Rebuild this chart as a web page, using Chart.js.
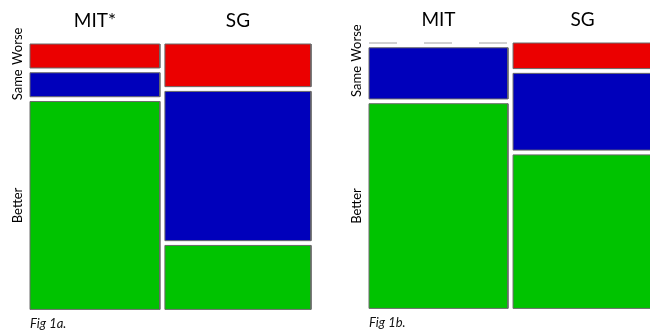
<!DOCTYPE html>
<html>
<head>
<meta charset="utf-8">
<script src="https://cdn.jsdelivr.net/npm/chart.js@4/dist/chart.umd.min.js"></script>
<style>
body{margin:0;overflow:hidden;background:#fff;}
#a{position:absolute;left:0;top:0;width:325px;height:333px;}
#b{position:absolute;left:325px;top:0;width:330px;height:333px;}
</style>
</head>
<body>
<div id="a"><canvas id="chartA"></canvas></div>
<div id="b"><canvas id="chartB"></canvas></div>
<script>
// rows top to bottom
const rowNames = ["Worse", "Same", "Better"];
const rowColors = ["#EB0000", "#0000BB", "#00C300"];

// Fig 1a counts
const colsA = ["MIT*", "SG"];
const fig1aMIT = [3, 3, 26];
const fig1aSG = [6, 21, 9];

// Fig 1b counts
const colsB = ["MIT", "SG"];
const fig1bMIT = [0, 6, 24];
const fig1bSG = [3, 9, 18];

const gapX = 0.018, gapY = 0.018;
const font = "Lato, 'Open Sans', sans-serif";

function sum(a){ return a.reduce((s, v) => s + v, 0); }

function buildMosaic(cols){
	let total = 0;
	cols.forEach(c => total += sum(c));
	let datasets = [];
	let centers = [];
	let rowCenters = [];
	let x = 0;
	cols.forEach((col, ci) => {
		let n = sum(col);
		let w = (1 - gapX * (cols.length - 1)) * n / total;
		let y = 1;
		col.forEach((c, r) => {
			let h = (1 - gapY * (col.length - 1)) * c / n;
			if(c === 0){
				datasets.push({
					data: [{x: x, y: y}, {x: x + w, y: y}],
					showLine: true, borderColor: "#a0a0a0", borderWidth: 1,
					borderDash: [28, 27], pointRadius: 0, fill: false, clip: 3
				});
			} else {
				datasets.push({
					data: [{x: x, y: y}, {x: x + w, y: y}, {x: x + w, y: y - h}, {x: x, y: y - h}, {x: x, y: y}],
					showLine: true, borderColor: "#6a6a6a", borderWidth: 1,
					backgroundColor: rowColors[r], fill: "shape", pointRadius: 0,
					tension: 0, borderJoinStyle: "miter", clip: 3
				});
			}
			if(ci === 0) rowCenters.push(y - h / 2);
			y -= h + gapY;
		});
		centers.push(x + w / 2);
		x += w + gapX;
	});
	// spread the side labels: move the upper one up (not past the top), rest goes down
	const minSep = 0.145;
	for(let i = 0; i < rowCenters.length - 1; i++){
		let d = minSep - (rowCenters[i] - rowCenters[i + 1]);
		if(d <= 0) continue;
		let up = Math.min(d, Math.max(0, 1 - rowCenters[i]));
		rowCenters[i] += up;
		rowCenters[i + 1] -= d - up;
	}
	return {datasets, centers, rowCenters};
}

function makeChart(id, names, cols, caption, yW, topH, padRight, padBottom){
	let m = buildMosaic(cols);
	new Chart(document.getElementById(id), {
		type: "scatter",
		data: {datasets: m.datasets},
		options: {
			responsive: true,
			maintainAspectRatio: false,
			animation: false,
			layout: {padding: {left: 0, right: padRight, top: 0, bottom: padBottom}},
			plugins: {
				legend: {display: false},
				tooltip: {enabled: false},
				title: {
					display: true, text: caption, position: "bottom", align: "start",
					fullSize: false, color: "#111",
					font: {family: font, size: 13, style: "italic", weight: "normal"},
					padding: {top: 7, bottom: 1}
				}
			},
			scales: {
				x: {
					type: "linear", position: "top", min: 0, max: 1,
					grid: {display: false, drawTicks: false}, border: {display: false},
					afterBuildTicks: s => { s.ticks = m.centers.map(v => ({value: v})); },
					afterFit: s => { s.height = topH; },
					ticks: {
						autoSkip: false, maxRotation: 0, padding: 12, color: "#000",
						font: {family: font, size: 19},
						callback: (v, i) => names[i]
					}
				},
				y: {
					type: "linear", min: 0, max: 1,
					grid: {display: false, drawTicks: false}, border: {display: false},
					afterBuildTicks: s => { s.ticks = m.rowCenters.map(v => ({value: v})); },
					afterFit: s => { s.width = yW; },
					ticks: {
						autoSkip: false, minRotation: 90, maxRotation: 90, crossAlign: "center",
						padding: -6, color: "#000",
						font: {family: font, size: 13},
						callback: (v, i) => rowNames[i]
					}
				}
			}
		}
	});
}

makeChart("chartA", colsA, [fig1aMIT, fig1aSG], "Fig 1a.", 30, 44, 14, 0);
makeChart("chartB", colsB, [fig1bMIT, fig1bSG], "Fig 1b.", 44, 43, 3, 1);
</script>
</body>
</html>
